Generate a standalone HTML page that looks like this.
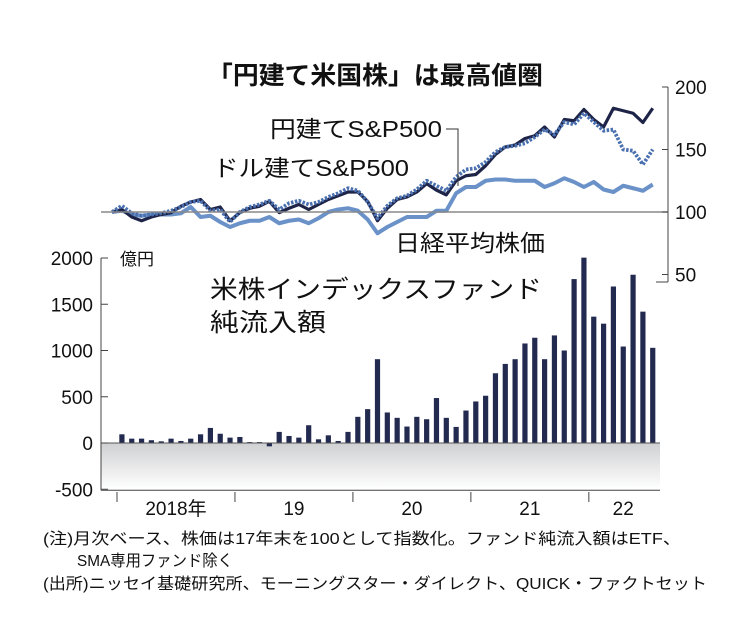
<!DOCTYPE html>
<html><head><meta charset="utf-8"><style>
html,body{margin:0;padding:0;background:#fff;}
svg{display:block;font-family:"Liberation Sans","Noto Sans CJK JP",sans-serif;}
</style></head><body>
<svg id="c" width="750" height="630" viewBox="0 0 750 630">
<defs><linearGradient id="neg" x1="0" y1="0" x2="0" y2="1"><stop offset="0" stop-color="#cfd0d2"/><stop offset="1" stop-color="#ffffff"/></linearGradient></defs>
<rect x="101" y="443" width="559" height="46" fill="url(#neg)"/>
<g id="bars"></g>
<g id="lines"></g>
<g id="axes"></g>
<text x="375" y="84" font-size="25" font-weight="bold" text-anchor="middle" textLength="336" lengthAdjust="spacingAndGlyphs" fill="#111">「円建て米国株」は最高値圏</text>
<text x="270" y="137" font-size="23" textLength="172" lengthAdjust="spacingAndGlyphs" fill="#111">円建てS&amp;P500</text>
<polyline points="446,129 458,129 458,186" fill="none" stroke="#333" stroke-width="1"/>
<text x="213" y="176" font-size="23" textLength="196" lengthAdjust="spacingAndGlyphs" fill="#111">ドル建てS&amp;P500</text>
<text x="395" y="251" font-size="23" textLength="150" lengthAdjust="spacingAndGlyphs" fill="#111">日経平均株価</text>
<text x="210" y="298" font-size="25" textLength="332" lengthAdjust="spacingAndGlyphs" fill="#111">米株インデックスファンド</text>
<text x="210" y="331" font-size="25" textLength="116" lengthAdjust="spacingAndGlyphs" fill="#111">純流入額</text>
<text x="120" y="265" font-size="17" fill="#111">億円</text>
<text x="43" y="544" font-size="16" textLength="638" lengthAdjust="spacingAndGlyphs" fill="#111">(注)月次ベース、株価は17年末を100として指数化。ファンド純流入額はETF、</text>
<text x="77" y="566" font-size="16" textLength="156" lengthAdjust="spacingAndGlyphs" fill="#111">SMA専用ファンド除く</text>
<text x="43" y="589" font-size="16" textLength="664" lengthAdjust="spacingAndGlyphs" fill="#111">(出所)ニッセイ基礎研究所、モーニングスター・ダイレクト、QUICK・ファクトセット</text>
</svg>
<script>
const barValues=[94,47,47,30,18,47,22,47,94,163,100,58,65,10,10,-36,120,76,58,192,40,83,22,120,283,366,906,330,272,178,283,257,486,272,174,351,449,511,754,855,906,1076,1138,906,1163,1000,1772,2004,1366,1290,1692,1043,1819,1420,1029];
const yenSP=[100,102,96,93,96,98,99.5,104.6,108,110,102,104,93,99.5,103,104.6,108.5,99.5,103,106,102,106,110,113,116,116,108.5,93,103,110,112,116,122.7,117.5,113.7,125,129,130,137,146,152,153.6,158.8,161,168,160,174,173,182,174,168,183,181,179,171.6,183];
const dollarSP=[100,105,99,97,98,99,101,104,108,109,101,102,92,100,104,106,109,102,107,109,106,108,112,115,119,117,108,95,105,111,113,118,125,121,117,128,134,135,140,148,152,153,155,160,166,162,172,170,179,172,165,166,150,149,138,150];
const nikkei=[100,101,98,97,98,98,98,99,104,96,97,92,88,91,93,93,96,91,93,94,91,95,100,102,103,101,94,83,88,92,96,96,96,101,101,115,120,120,125,126,126,125,125,125,120,123,127,124,120,124,118,116,121,119,117,122];
const barTicks=[2000,1500,1000,500,0,-500];
const lineTicks=[200,150,100,50];
const yearLabels=["2018年","19","20","21","22"];
const NS="http://www.w3.org/2000/svg";
function mk(t,a,p){const e=document.createElementNS(NS,t);for(const k in a)e.setAttribute(k,a[k]);p.appendChild(e);return e;}
const M=9.83, X0=117;
const xm=i=>X0+(i+0.5)*M;
const xl=i=>X0+(i-0.5)*M;
const yb=v=>443-v*46.25/500;
const yl=v=>212-(v-100)*1.25;
const bars=document.getElementById('bars');
barValues.forEach((v,i)=>{
  const r=mk('rect',{x:xm(i)-2.6,y:Math.min(yb(v),yb(0)),width:5.2,height:Math.max(1,Math.abs(yb(v)-yb(0))),fill:'#222a4f'},bars);
  
  
});
const ax=document.getElementById('axes');
let b=mk('line',{x1:101,y1:yl(100),x2:668,y2:yl(100),stroke:'#888','stroke-width':1.5},ax);


const lines=document.getElementById('lines');
function poly(d,st,name){const p=mk('polyline',Object.assign({points:d.map((v,i)=>xl(i)+','+yl(v)).join(' '),fill:'none','stroke-linejoin':'round'},st),lines);
  
  }
poly(nikkei,{stroke:'#6a92c8','stroke-width':4},'line-nikkei');
poly(yenSP,{stroke:'#1e2448','stroke-width':3.2},'line-yen-sp500');
poly(dollarSP,{stroke:'#4a70b0','stroke-width':3.8,'stroke-dasharray':'2.5,1.5'},'line-dollar-sp500');
let z=mk('line',{x1:101,y1:yb(0),x2:660,y2:yb(0),stroke:'#555','stroke-width':1},ax);


let la=mk('line',{x1:101,y1:yb(2000),x2:101,y2:yb(-500)+1,stroke:'#444','stroke-width':1},ax);


barTicks.forEach(v=>{
  const t=mk('line',{x1:101,y1:yb(v),x2:108,y2:yb(v),stroke:'#444'},ax);
  
  
  const l=mk('text',{x:93,y:yb(v)+7,'font-size':19,'text-anchor':'end',fill:'#111'},ax);
  l.textContent=v;
  
  
});
let ba=mk('line',{x1:101,y1:yb(-500)+1,x2:660,y2:yb(-500)+1,stroke:'#444'},ax);


yearLabels.forEach((s,i)=>{
  const x=X0+i*12*M;
  const t=mk('line',{x1:x,y1:492,x2:x,y2:502,stroke:'#444'},ax);
  
  
  const w=Math.min(12,barValues.length-i*12);
  const l=mk('text',{x:X0+(i*12+w/2)*M,y:515,'font-size':19,'text-anchor':'middle',fill:'#111'},ax);
  l.textContent=s;
  
  
});
let ra=mk('line',{x1:668,y1:yl(200),x2:668,y2:282,stroke:'#444'},ax);


let rb=mk('line',{x1:656,y1:282,x2:668,y2:282,stroke:'#444'},ax);


lineTicks.forEach(v=>{
  const t=mk('line',{x1:662,y1:yl(v),x2:668,y2:yl(v),stroke:'#444'},ax);
  
  
  const l=mk('text',{x:675,y:yl(v)+7,'font-size':19,fill:'#111'},ax);
  l.textContent=v;
  
  
});
</script>
</body></html>
